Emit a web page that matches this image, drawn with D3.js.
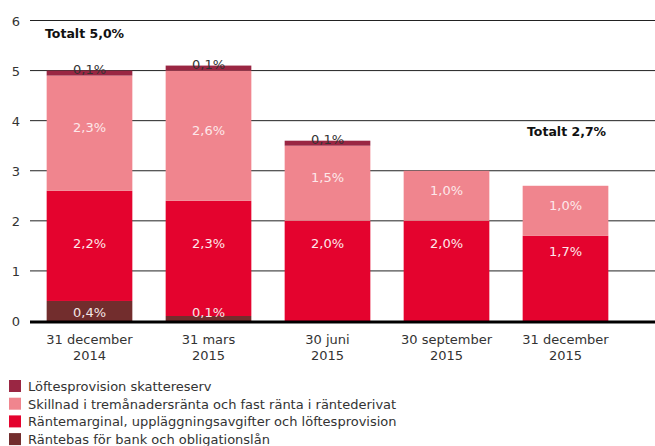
<!DOCTYPE html>
<html>
<head>
<meta charset="utf-8">
<script src="https://cdn.jsdelivr.net/npm/d3@7"></script>
<style>
  body { margin: 0; background: #fff; }
  text { font-family: "DejaVu Sans", sans-serif; }
</style>
</head>
<body>
<script>
var categories = [["31 december", "2014"], ["31 mars", "2015"], ["30 juni", "2015"], ["30 september", "2015"], ["31 december", "2015"]];
var seriesNames = ["Räntebas för bank och obligationslån", "Räntemarginal, uppläggningsavgifter och löftesprovision",
                   "Skillnad i tremånadersränta och fast ränta i räntederivat", "Löftesprovision skattereserv"];
var rantebas   = [0.4, 0.1, 0, 0, 0];
var marginal   = [2.2, 2.3, 2.0, 2.0, 1.7];
var skillnad   = [2.3, 2.6, 1.5, 1.0, 1.0];
var lofte      = [0.1, 0.1, 0.1, 0, 0];
var yTicks = [0, 1, 2, 3, 4, 5, 6];
var totals = [{ i: 0, text: "Totalt 5,0%" }, { i: 4, text: "Totalt 2,7%" }];

var colors = ["#722d2d", "#e4032e", "#f0858e", "#9a2643"];
var legendOrder = [3, 2, 1, 0];

var width = 655, height = 446;

var svg = d3.select("body").append("svg")
    .attr("width", width)
    .attr("height", height);

var x = d3.scaleBand().domain(d3.range(categories.length)).range([30, 625]).paddingInner(0.28).paddingOuter(0.14);
var y = d3.scaleLinear().domain([0, 6]).range([321, 20.5]);

// gridlines
svg.selectAll("line.grid")
    .data(yTicks.filter(function(d) { return d > 0; }))
  .enter().append("line")
    .attr("x1", 30).attr("x2", 655)
    .attr("y1", function(d) { return y(d); })
    .attr("y2", function(d) { return y(d); })
    .attr("stroke", "#222")
    .attr("stroke-width", 1);

svg.selectAll("text.tick")
    .data(yTicks)
  .enter().append("text")
    .attr("x", 16)
    .attr("y", function(d) { return y(d) + 5; })
    .attr("text-anchor", "middle")
    .attr("font-size", "13px")
    .attr("fill", "#333")
    .text(function(d) { return d; });

var rows = categories.map(function(c, i) {
  return { i: i, rantebas: rantebas[i], marginal: marginal[i], skillnad: skillnad[i], lofte: lofte[i] };
});
var keys = ["rantebas", "marginal", "skillnad", "lofte"];
var stacked = d3.stack().keys(keys)(rows);

stacked.forEach(function(layer, k) {
  svg.append("g").selectAll("rect")
      .data(layer.filter(function(d) { return d[1] - d[0] > 0; }))
    .enter().append("rect")
      .attr("x", function(d) { return x(d.data.i); })
      .attr("width", x.bandwidth())
      .attr("y", function(d) { return y(d[1]); })
      .attr("height", function(d) { return y(d[0]) - y(d[1]); })
      .attr("fill", colors[k]);
});

function fmt(v) { return v.toFixed(1).replace(".", ",") + "%"; }

stacked.forEach(function(layer, k) {
  svg.append("g").selectAll("text")
      .data(layer.filter(function(d) { return d[1] - d[0] > 0; }))
    .enter().append("text")
      .attr("x", function(d) { return x(d.data.i) + x.bandwidth() / 2; })
      .attr("y", function(d) {
        if (k === 3) return y(d[1]) + 3;
        if (k === 0) return y(0) - 4;
        if (k === 1) return Math.max(y(1.56), y(d[1]) + 15) + 5;
        return (y(d[0]) + y(d[1])) / 2 - 1;
      })
      .attr("text-anchor", "middle")
      .attr("font-size", "13px")
      .attr("fill", k === 3 ? "#333" : (k === 0 ? "#f3e6e6" : "#fde8ea"))
      .text(function(d) { return fmt(d[1] - d[0]); });
});

// zero line
svg.append("line")
    .attr("x1", 30).attr("x2", 655)
    .attr("y1", y(0) + 1).attr("y2", y(0) + 1)
    .attr("stroke", "#000")
    .attr("stroke-width", 3);

// category labels
categories.forEach(function(c, i) {
  var t = svg.append("text")
      .attr("text-anchor", "middle")
      .attr("font-size", "13px")
      .attr("fill", "#333");
  c.forEach(function(line, j) {
    t.append("tspan")
      .attr("x", x(i) + x.bandwidth() / 2)
      .attr("y", 344 + j * 16)
      .text(line);
  });
});

// totals
svg.append("text").attr("x", 45).attr("y", 38)
    .attr("font-size", "12.5px").attr("font-weight", "bold").attr("fill", "#111")
    .text(totals[0].text);
svg.append("text").attr("x", 527).attr("y", 136)
    .attr("font-size", "12.5px").attr("font-weight", "bold").attr("fill", "#111")
    .text(totals[1].text);

// legend
legendOrder.forEach(function(k, j) {
  var cy = 386 + j * 17.7;
  svg.append("rect").attr("x", 9).attr("y", cy - 6).attr("width", 12).attr("height", 12).attr("fill", colors[k]);
  svg.append("text").attr("x", 28).attr("y", cy + 5)
      .attr("font-size", "13px").attr("fill", "#333")
      .text(seriesNames[k]);
});
</script>
</body>
</html>
